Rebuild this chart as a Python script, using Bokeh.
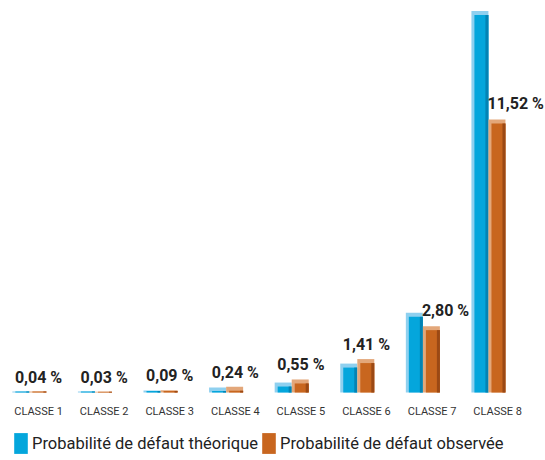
from bokeh.plotting import figure
from bokeh.models import ColumnDataSource, Legend, LegendItem, Range1d
from bokeh.embed import file_html
from bokeh.resources import INLINE
from bokeh.core.properties import value

classes = ["Classe 1", "Classe 2", "Classe 3", "Classe 4", "Classe 5", "Classe 6", "Classe 7", "Classe 8"]
theorique = [0.04, 0.04, 0.08, 0.21, 0.42, 1.22, 3.36, 16.1]
observee = [0.04, 0.03, 0.09, 0.24, 0.55, 1.41, 2.80, 11.52]
labels = ["0,04 %", "0,03 %", "0,09 %", "0,24 %", "0,55 %", "1,41 %", "2,80 %", "11,52 %"]

PXX = 65.6   # px per category
PXY = 23.7   # px per percent
W = 17 / PXX
BASE = 392   # baseline pixel row

xs = list(range(len(classes)))
xb = [x - 0.27 for x in xs]
xo = [x - 0.01 for x in xs]

p = figure(width=545, height=460, output_backend="svg", toolbar_location=None,
           x_range=Range1d(-0.58, 7.73),
           y_range=Range1d(-(460 - BASE) / PXY, BASE / PXY),
           min_border=0, x_axis_type=None, y_axis_type=None)
p.outline_line_color = None
p.background_fill_color = "white"
p.border_fill_color = "white"
p.grid.visible = False

def bar(xc, vals, light, main, dark):
    p.vbar(x=xc, top=vals, width=W, fill_color=light, line_color=None)
    top_main = [max(v - 4 / PXY, min(v, 1.5 / PXY)) for v in vals]
    xm = [x + 1.5 / PXX for x in xc]
    r = p.vbar(x=xm, top=top_main, width=W - 3 / PXX, fill_color=main, line_color=None)
    xd = [x + W / 2 - 1.5 / PXX for x in xc]
    p.vbar(x=xd, top=top_main, width=3 / PXX, fill_color=dark, line_color=None)
    return r

rb = bar(xb, theorique, "#8fd0ef", "#04a6dc", "#0383b4")
ro = bar(xo, observee, "#e3a77a", "#c8661f", "#9b4915")

# value labels (observed rates)
lx, ly, la = [], [], []
for i, v in enumerate(observee):
    t = theorique[i]
    side = t > v * 1.15 and v > 2
    if side:
        lx.append(xo[i] - W / 2 - 1 / PXX)
        la.append("left")
        ly.append(v + 6 / PXY)
    else:
        lx.append(xs[i])
        la.append("center")
        ly.append(max(v, t) + 5 / PXY)
src = ColumnDataSource(dict(x=lx, y=ly, t=labels, a=la))
p.text(x="x", y="y", text="t", text_align="a", text_baseline="bottom", source=src,
       text_font=value("Roboto"), text_font_style="bold", text_font_size="16px",
       text_color="#222222")

# category labels
csrc = ColumnDataSource(dict(x=xs, y=[-19 / PXY] * len(xs), t=[c.upper() for c in classes]))
p.text(x="x", y="y", text="t", source=csrc, text_align="center", text_baseline="middle",
       text_font=value("Roboto"), text_font_size="11px", text_color="#333333")

legend = Legend(items=[LegendItem(label="Probabilité de défaut théorique", renderers=[rb]),
                       LegendItem(label="Probabilité de défaut observée", renderers=[ro])],
                orientation="horizontal", location=(12, 4),
                label_text_font="Roboto", label_text_font_size="16.5px", label_text_color="#222222",
                glyph_width=17, glyph_height=26, label_standoff=3, spacing=2,
                padding=0, margin=0, border_line_color=None, background_fill_alpha=0)
p.add_layout(legend)

open("out.html", "w").write(file_html(p, INLINE))
